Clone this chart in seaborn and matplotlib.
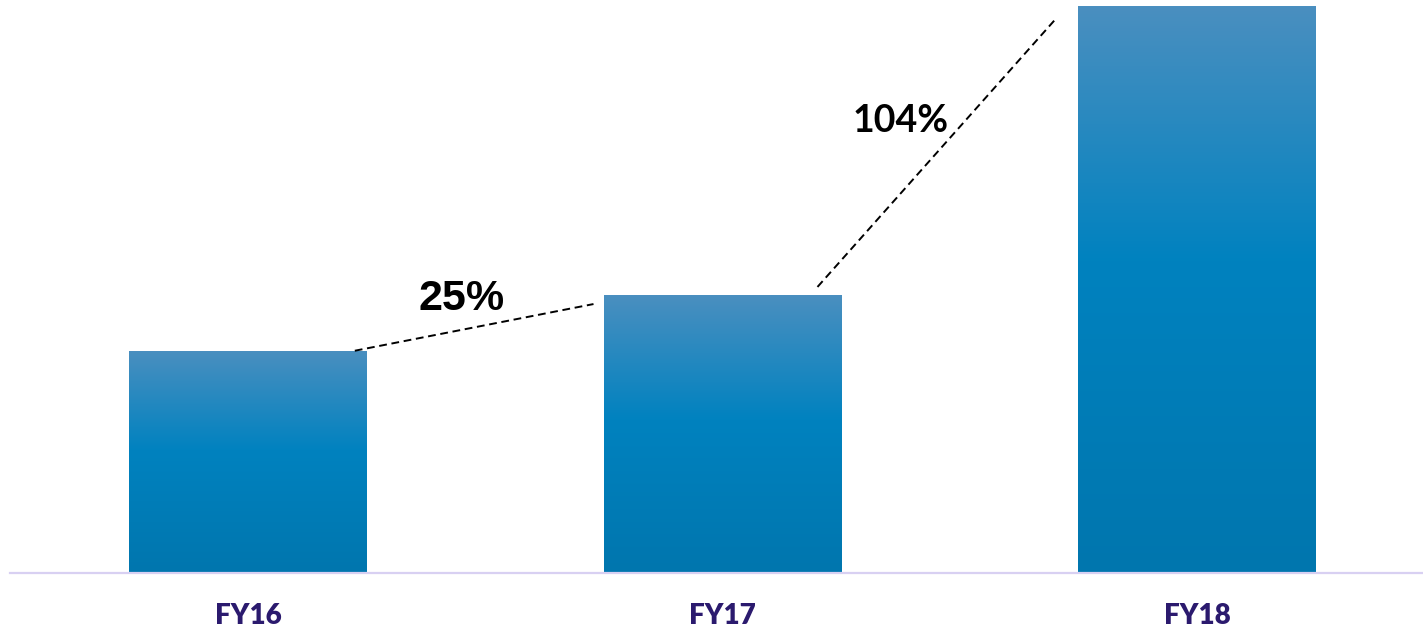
import numpy as np
import pandas as pd
import matplotlib.pyplot as plt
import seaborn as sns
from matplotlib.colors import LinearSegmentedColormap

years = ["FY16", "FY17", "FY18"]
values = [100, 125, 255]
growth_labels = ["25%", "104%"]

df = pd.DataFrame({"year": years, "value": values})

sns.set_style("white")

fig = plt.figure(figsize=(14.23, 6.29), dpi=100)
ax = fig.add_axes([10 / 1423, 56 / 629, 1413 / 1423, 573 / 629])

sns.barplot(data=df, x="year", y="value", color="#0080bf", width=0.5, ax=ax)

# vertical gradient on every bar
grad = LinearSegmentedColormap.from_list("bar", [(0.0, "#0076ae"), (0.55, "#0082bf"), (1.0, "#4a8fc0")])
g = np.linspace(0, 1, 256).reshape(-1, 1)
for p in ax.patches:
    x0, y0 = p.get_x(), p.get_y()
    w, h = p.get_width(), p.get_height()
    img = ax.imshow(g, cmap=grad, aspect="auto", origin="lower",
                    extent=[x0, x0 + w, y0, y0 + h], zorder=p.get_zorder() + 0.1)
    img.set_clip_path(p)
    p.set_edgecolor("none")

ax.set_xlim(-0.5016, 2.476)
ax.set_ylim(0, 257.8)

# growth connectors
ax.plot([0.225, 0.728], [values[0], values[1] - 4], color="black", lw=1.4, ls=(0, (4, 2.4)), zorder=5)
ax.plot([1.2, 1.705], [values[1] + 3.7, values[2] - 5], color="black", lw=1.4, ls=(0, (4, 2.4)), zorder=5)
ax.text(0.451, 123.3, growth_labels[0], ha="center", va="center", fontsize=31,
        fontweight="bold", family="Liberation Sans", color="black")
ax.text(1.375, 203.3, growth_labels[1], ha="center", va="center", fontsize=27,
        fontweight="bold", family="Lato", color="black")

ax.set_xlabel("")
ax.set_ylabel("")
ax.set_yticks([])
ax.tick_params(axis="x", length=0, pad=21.5)
for t in ax.get_xticklabels():
    t.set_fontfamily("Lato")
    t.set_fontweight("heavy")
    t.set_fontsize(20)
    t.set_color("#2b1a6e")

for s in ["top", "right", "left"]:
    ax.spines[s].set_visible(False)
ax.spines["bottom"].set_color("#d8d0f2")
ax.spines["bottom"].set_linewidth(1.6)

fig.savefig("out.png", dpi=100)
